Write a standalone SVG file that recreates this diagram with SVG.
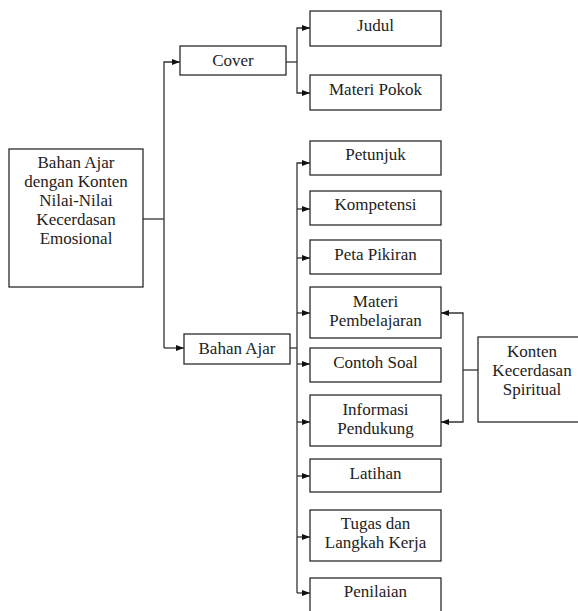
<svg xmlns="http://www.w3.org/2000/svg" width="578" height="611" viewBox="0 0 578 611">
<style>
.box{fill:#fff;stroke:#2b2b2b;stroke-width:1.3}
.t{font-family:"Liberation Serif",serif;font-size:17px;fill:#222;text-anchor:middle}
.c{fill:none;stroke:#333;stroke-width:1.3}
</style>
<defs>
<marker id="ah" viewBox="0 0 8 8" refX="8" refY="4" markerWidth="8" markerHeight="8" markerUnits="userSpaceOnUse" orient="auto">
<path d="M0,1 L8,4 L0,7 Z" fill="#111"/>
</marker>
</defs>
<rect width="578" height="611" fill="#fff"/>
<g id="connectors">
<path class="c" d="M143,219 H164"/>
<path class="c" d="M164,348 V62 H180" marker-end="url(#ah)"/>
<path class="c" d="M164,348 H184" marker-end="url(#ah)"/>
<path class="c" d="M286,62 H297"/>
<path class="c" d="M297,62 V28 H310" marker-end="url(#ah)"/>
<path class="c" d="M297,62 V93 H310" marker-end="url(#ah)"/>
<path class="c" d="M290,348 H297"/>
<path class="c" d="M297,593 V163 H310" marker-end="url(#ah)"/>
<path class="c" d="M297,209 H310" marker-end="url(#ah)"/>
<path class="c" d="M297,258 H310" marker-end="url(#ah)"/>
<path class="c" d="M297,313 H310" marker-end="url(#ah)"/>
<path class="c" d="M297,364 H310" marker-end="url(#ah)"/>
<path class="c" d="M297,422 H310" marker-end="url(#ah)"/>
<path class="c" d="M297,476 H310" marker-end="url(#ah)"/>
<path class="c" d="M297,537 H310" marker-end="url(#ah)"/>
<path class="c" d="M297,593 H310" marker-end="url(#ah)"/>
<path class="c" d="M478,370 H463"/>
<path class="c" d="M463,370 V313 H441" marker-end="url(#ah)"/>
<path class="c" d="M463,370 V422 H441" marker-end="url(#ah)"/>
</g>
<g id="main"><rect class="box" x="9" y="149" width="134" height="138"/>
<text class="t" x="76" y="168">Bahan Ajar</text><text class="t" x="76" y="187">dengan Konten</text><text class="t" x="76" y="206">Nilai-Nilai</text><text class="t" x="76" y="225">Kecerdasan</text><text class="t" x="76" y="244">Emosional</text></g>
<g id="cover"><rect class="box" x="180" y="46" width="106" height="29"/><text class="t" x="233" y="66">Cover</text></g>
<g id="bahan-ajar"><rect class="box" x="184" y="334" width="106" height="30"/><text class="t" x="237" y="354">Bahan Ajar</text></g>
<g id="judul"><rect class="box" x="310" y="11" width="131" height="35"/><text class="t" x="375.5" y="31">Judul</text></g>
<g id="materi-pokok"><rect class="box" x="310" y="75" width="131" height="35"/><text class="t" x="375.5" y="95">Materi Pokok</text></g>
<g id="petunjuk"><rect class="box" x="310" y="141" width="131" height="34"/><text class="t" x="375.5" y="160">Petunjuk</text></g>
<g id="kompetensi"><rect class="box" x="310" y="191" width="131" height="34"/><text class="t" x="375.5" y="210">Kompetensi</text></g>
<g id="peta-pikiran"><rect class="box" x="310" y="240" width="131" height="34"/><text class="t" x="375.5" y="260">Peta Pikiran</text></g>
<g id="materi-pembelajaran"><rect class="box" x="310" y="287" width="131" height="51"/><text class="t" x="375.5" y="307">Materi</text><text class="t" x="375.5" y="326">Pembelajaran</text></g>
<g id="contoh-soal"><rect class="box" x="310" y="348" width="131" height="34"/><text class="t" x="375.5" y="368">Contoh Soal</text></g>
<g id="informasi-pendukung"><rect class="box" x="310" y="395" width="131" height="51"/><text class="t" x="375.5" y="415">Informasi</text><text class="t" x="375.5" y="434">Pendukung</text></g>
<g id="latihan"><rect class="box" x="310" y="459" width="131" height="33"/><text class="t" x="375.5" y="479">Latihan</text></g>
<g id="tugas"><rect class="box" x="310" y="510" width="131" height="51"/><text class="t" x="375.5" y="529">Tugas dan</text><text class="t" x="375.5" y="548">Langkah Kerja</text></g>
<g id="penilaian"><rect class="box" x="310" y="578" width="131" height="40"/><text class="t" x="375.5" y="597">Penilaian</text></g>
<g id="konten"><rect class="box" x="478" y="337" width="110" height="85"/><text class="t" x="532" y="357">Konten</text><text class="t" x="532" y="376">Kecerdasan</text><text class="t" x="532" y="395">Spiritual</text></g>
</svg>
